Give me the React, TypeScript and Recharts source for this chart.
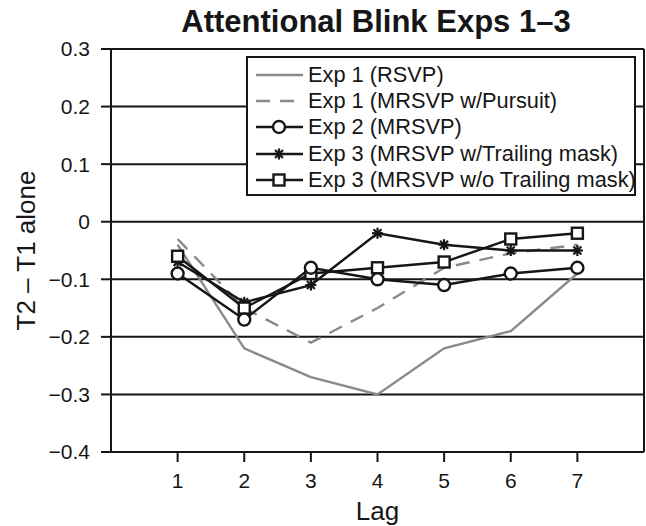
import React from 'react';
import { LineChart, Line, XAxis, YAxis, CartesianGrid, ReferenceLine } from 'recharts';

const lags = [1, 2, 3, 4, 5, 6, 7];
const exp1Rsvp = [-0.04, -0.22, -0.27, -0.3, -0.22, -0.19, -0.09];
const exp1Pursuit = [-0.03, -0.15, -0.21, -0.15, -0.08, -0.055, -0.04];
const exp2Mrsvp = [-0.09, -0.17, -0.08, -0.1, -0.11, -0.09, -0.08];
const exp3Trailing = [-0.07, -0.14, -0.11, -0.02, -0.04, -0.05, -0.05];
const exp3NoTrailing = [-0.06, -0.15, -0.09, -0.08, -0.07, -0.03, -0.02];
const yTicks = [-0.4, -0.3, -0.2, -0.1, 0, 0.1, 0.2, 0.3];

const data = lags.map((lag, i) => ({
  lag,
  rsvp: exp1Rsvp[i],
  pursuit: exp1Pursuit[i],
  exp2: exp2Mrsvp[i],
  trailing: exp3Trailing[i],
  noTrailing: exp3NoTrailing[i],
}));

const INK = '#161616';
const GREY = '#8a8a8a';
const FONT = '"Liberation Sans", Arial, Helvetica, sans-serif';

const fmt = (v: number) => {
  if (v === 0) return '0';
  const s = Math.abs(v).toFixed(1);
  return v < 0 ? `\u2212${s}` : s;
};

// marker shapes
const CircleDot = (p: any) => (
  <circle key={p.key} cx={p.cx} cy={p.cy} r={6} fill="#fff" stroke={INK} strokeWidth={2.4} />
);
const SquareDot = (p: any) => (
  <rect key={p.key} x={p.cx - 5.5} y={p.cy - 5.5} width={11} height={11} fill="#fff" stroke={INK} strokeWidth={2.4} />
);
const StarDot = (p: any) => {
  const r = 5.5;
  const d = r * 0.72;
  return (
    <g key={p.key} stroke={INK} strokeWidth={2.2}>
      <line x1={p.cx - r} y1={p.cy} x2={p.cx + r} y2={p.cy} />
      <line x1={p.cx} y1={p.cy - r} x2={p.cx} y2={p.cy + r} />
      <line x1={p.cx - d} y1={p.cy - d} x2={p.cx + d} y2={p.cy + d} />
      <line x1={p.cx - d} y1={p.cy + d} x2={p.cx + d} y2={p.cy - d} />
    </g>
  );
};

const legendItems = [
  { label: 'Exp 1 (RSVP)', color: GREY, dash: undefined, marker: null },
  { label: 'Exp 1 (MRSVP w/Pursuit)', color: GREY, dash: '14 10', marker: null },
  { label: 'Exp 2 (MRSVP)', color: INK, dash: undefined, marker: 'circle' },
  { label: 'Exp 3 (MRSVP w/Trailing mask)', color: INK, dash: undefined, marker: 'star' },
  { label: 'Exp 3 (MRSVP w/o Trailing mask)', color: INK, dash: undefined, marker: 'square' },
];

const LegendBox = () => (
  <div
    style={{
      position: 'absolute', left: 246, top: 56, width: 386, height: 132,
      border: `2px solid ${INK}`, background: '#fff', fontFamily: FONT,
      fontSize: 21.8, color: INK, paddingTop: 4,
    }}
  >
    {legendItems.map((it) => (
      <div key={it.label} style={{ display: 'flex', alignItems: 'center', height: 26.2, whiteSpace: 'nowrap' }}>
        <svg width={60} height={20} style={{ flex: 'none' }}>
          <line x1={8} y1={10} x2={55} y2={10} stroke={it.color} strokeWidth={2.4} strokeDasharray={it.dash} />
          {it.marker === 'circle' && <CircleDot cx={31} cy={10} />}
          {it.marker === 'square' && <SquareDot cx={31} cy={10} />}
          {it.marker === 'star' && <StarDot cx={31} cy={10} />}
        </svg>
        <span>{it.label}</span>
      </div>
    ))}
  </div>
);

const YLabel = ({ viewBox }: any) => {
  const cy = viewBox.y + viewBox.height / 2;
  return (
    <text x={26} y={cy} transform={`rotate(-90, 26, ${cy})`} textAnchor="middle" dominantBaseline="central"
      fontSize={26} fill={INK} fontFamily={FONT}>
      T2 – T1 alone
    </text>
  );
};

export default function App() {
  return (
    <div style={{ position: 'relative', width: 646, height: 526, background: '#fff' }}>
      <style>{'body{margin:0}'}</style>
      <div style={{ position: 'absolute', left: 0, width: 752, top: 4, textAlign: 'center', fontFamily: FONT, fontWeight: 'bold', fontSize: 31, color: INK }}>
        Attentional Blink Exps 1–3
      </div>
      <LineChart width={646} height={526} data={data} margin={{ top: 49, right: 2, left: 0, bottom: 0 }}
        style={{ position: 'absolute', left: 0, top: 0 }}>
        <CartesianGrid vertical={false} stroke={INK} strokeWidth={2} strokeOpacity={1} />
        <XAxis
          dataKey="lag" type="number" domain={[0, 8]} ticks={lags} height={74}
          stroke={INK} strokeWidth={2} tickSize={10} tickMargin={11}
          tick={{ fill: INK, fontSize: 21, fontFamily: FONT }}
          label={{ value: 'Lag', position: 'insideBottom', offset: 6, fill: INK, fontSize: 26, fontFamily: FONT }}
        />
        <YAxis
          type="number" domain={[-0.4, 0.3]} ticks={yTicks} width={111} tickFormatter={fmt}
          stroke={INK} strokeWidth={2} tickSize={10} tickMargin={11}
          tick={{ fill: INK, fontSize: 21, fontFamily: FONT }}
          label={<YLabel />}
        />
        <ReferenceLine x={8} stroke={INK} strokeWidth={2} />
        <Line dataKey="rsvp" stroke={GREY} strokeWidth={2.4} dot={false} isAnimationActive={false} />
        <Line dataKey="pursuit" stroke={GREY} strokeWidth={2.4} strokeDasharray="14 10" dot={false} isAnimationActive={false} />
        <Line dataKey="trailing" stroke={INK} strokeWidth={2.4} dot={<StarDot />} isAnimationActive={false} />
        <Line dataKey="noTrailing" stroke={INK} strokeWidth={2.4} dot={<SquareDot />} isAnimationActive={false} />
        <Line dataKey="exp2" stroke={INK} strokeWidth={2.4} dot={<CircleDot />} isAnimationActive={false} />
      </LineChart>
      <LegendBox />
    </div>
  );
}
